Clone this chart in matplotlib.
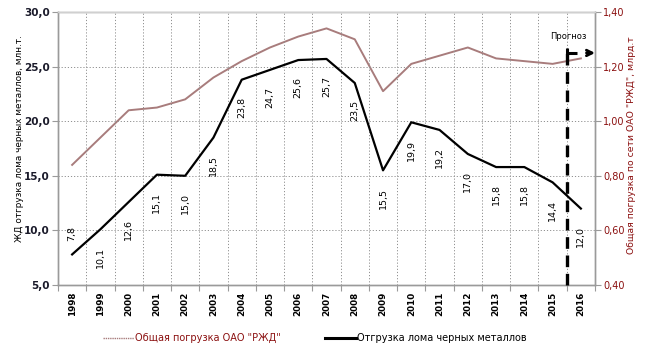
import matplotlib
matplotlib.use("Agg")
import matplotlib.pyplot as plt
from matplotlib.lines import Line2D

years = ["1998", "1999", "2000", "2001", "2002", "2003", "2004", "2005", "2006",
         "2007", "2008", "2009", "2010", "2011", "2012", "2013", "2014", "2015", "2016"]
scrap = [7.8, 10.1, 12.6, 15.1, 15.0, 18.5, 23.8, 24.7, 25.6, 25.7, 23.5, 15.5,
         19.9, 19.2, 17.0, 15.8, 15.8, 14.4, 12.0]
total_loading = [0.84, 0.94, 1.04, 1.05, 1.08, 1.16, 1.22, 1.27, 1.31, 1.34, 1.30,
                 1.11, 1.21, 1.24, 1.27, 1.23, 1.22, 1.21, 1.23]
left_ticks = [5.0, 10.0, 15.0, 20.0, 25.0, 30.0]
right_ticks = [0.40, 0.60, 0.80, 1.00, 1.20, 1.40]

BROWN = "#a87c7c"
DARKRED = "#8b1010"
SPINE = "#9a9a9a"
GRID = "#909090"

plt.rcParams["font.family"] = ["DejaVu Sans"]

fig = plt.figure(figsize=(6.5, 3.49), dpi=100)
ax = fig.add_axes([58 / 650, 1 - 285 / 349, 537 / 650, 273 / 349])
ax2 = ax.twinx()

x = list(range(len(years)))

ax.set_xlim(-0.5, len(years) - 0.5)
ax.set_ylim(5, 30)
ax2.set_ylim(0.4, 1.4)

# grid: horizontal at left-axis ticks, vertical at category boundaries
for v in left_ticks[1:-1]:
    ax.axhline(v, color=GRID, lw=0.7, ls=(0, (1.2, 2)), zorder=0)
for b in range(len(years) - 1):
    ax.axvline(b + 0.5, color=GRID, lw=0.7, ls=(0, (1.2, 2)), zorder=0)

ax2.plot(x, total_loading, color=BROWN, lw=1.4, zorder=3)
ax.plot(x, scrap, color="black", lw=1.6, zorder=4)
ax.set_zorder(ax2.get_zorder() + 1)
ax.patch.set_visible(False)

# value labels for the scrap series
for i, v in enumerate(scrap):
    dy = 15 if i == 0 else -20
    ax.annotate(f"{v:.1f}".replace(".", ","), (i, v), xytext=(0, dy),
                textcoords="offset points", rotation=90, ha="center", va="center",
                fontsize=6.8, color="black", zorder=5)

# forecast marker
ax.plot([17.5, 17.5], [5, 26.7], color="black", lw=2.4, ls=(0, (3.5, 2)),
        zorder=6, clip_on=False)
ax.plot([17.5, 17.5, 17.85], [26.7, 26.25, 26.25], color="black", lw=2.2,
        zorder=6, solid_capstyle="butt", clip_on=False)
ax.annotate("", xy=(18.6, 26.25), xytext=(18.1, 26.25),
            arrowprops=dict(arrowstyle="->", color="black", lw=2.0,
                            mutation_scale=10),
            annotation_clip=False, zorder=6)
ax.text(17.55, 27.8, "Прогноз", fontsize=6, ha="center", va="center",
        color="black")

# axes styling
ax.set_xticks([b + 0.5 for b in range(-1, len(years))], minor=False)
ax.set_xticklabels([])
ax.set_xticks(x, minor=True)
ax.set_xticklabels(years, minor=True, rotation=90, fontsize=6.3,
                   fontweight="bold")
ax.tick_params(axis="x", which="major", length=4, color=SPINE, direction="out")
ax.tick_params(axis="x", which="minor", length=0, pad=5)

ax.set_yticks(left_ticks)
ax.set_yticklabels([f"{v:.1f}".replace(".", ",") for v in left_ticks],
                   fontsize=7.5, fontweight="bold", color="#1a1a2a")
ax.tick_params(axis="y", length=4, color=SPINE, pad=2)

ax2.set_yticks(right_ticks)
ax2.set_yticklabels([f"{v:.2f}".replace(".", ",") for v in right_ticks],
                    fontsize=7, color=DARKRED)
ax2.tick_params(axis="y", length=4, color=SPINE, pad=2)

for a in (ax, ax2):
    for s in a.spines.values():
        s.set_color(SPINE)
        s.set_linewidth(1.0)
ax.spines["top"].set_color("#d0d0d0")

fig.text(20 / 650, 1 - 139 / 349, "ЖД отгрузка лома черных металлов, млн.т.",
         rotation=90, ha="center", va="center", fontsize=6.4, color="black")
fig.text(632 / 650, 1 - 145 / 349, "Общая погрузка по сети ОАО \"РЖД\", млрд.т",
         rotation=90, ha="center", va="center", fontsize=6.7, color=DARKRED)

handles = [Line2D([], [], color=BROWN, lw=1.0, ls=(0, (1, 0.6))),
           Line2D([], [], color="black", lw=2.2)]
leg = fig.legend(handles, ["Общая погрузка ОАО \"РЖД\"", "Отгрузка лома черных металлов"],
                 loc="center", bbox_to_anchor=(315 / 650, 1 - 338 / 349), ncol=2,
                 frameon=False, fontsize=7, handlelength=3.2, handletextpad=0.1,
                 columnspacing=4.5, borderaxespad=0)
leg.get_texts()[0].set_color(DARKRED)
leg.get_texts()[1].set_color("black")

fig.savefig("out.png", dpi=100)
